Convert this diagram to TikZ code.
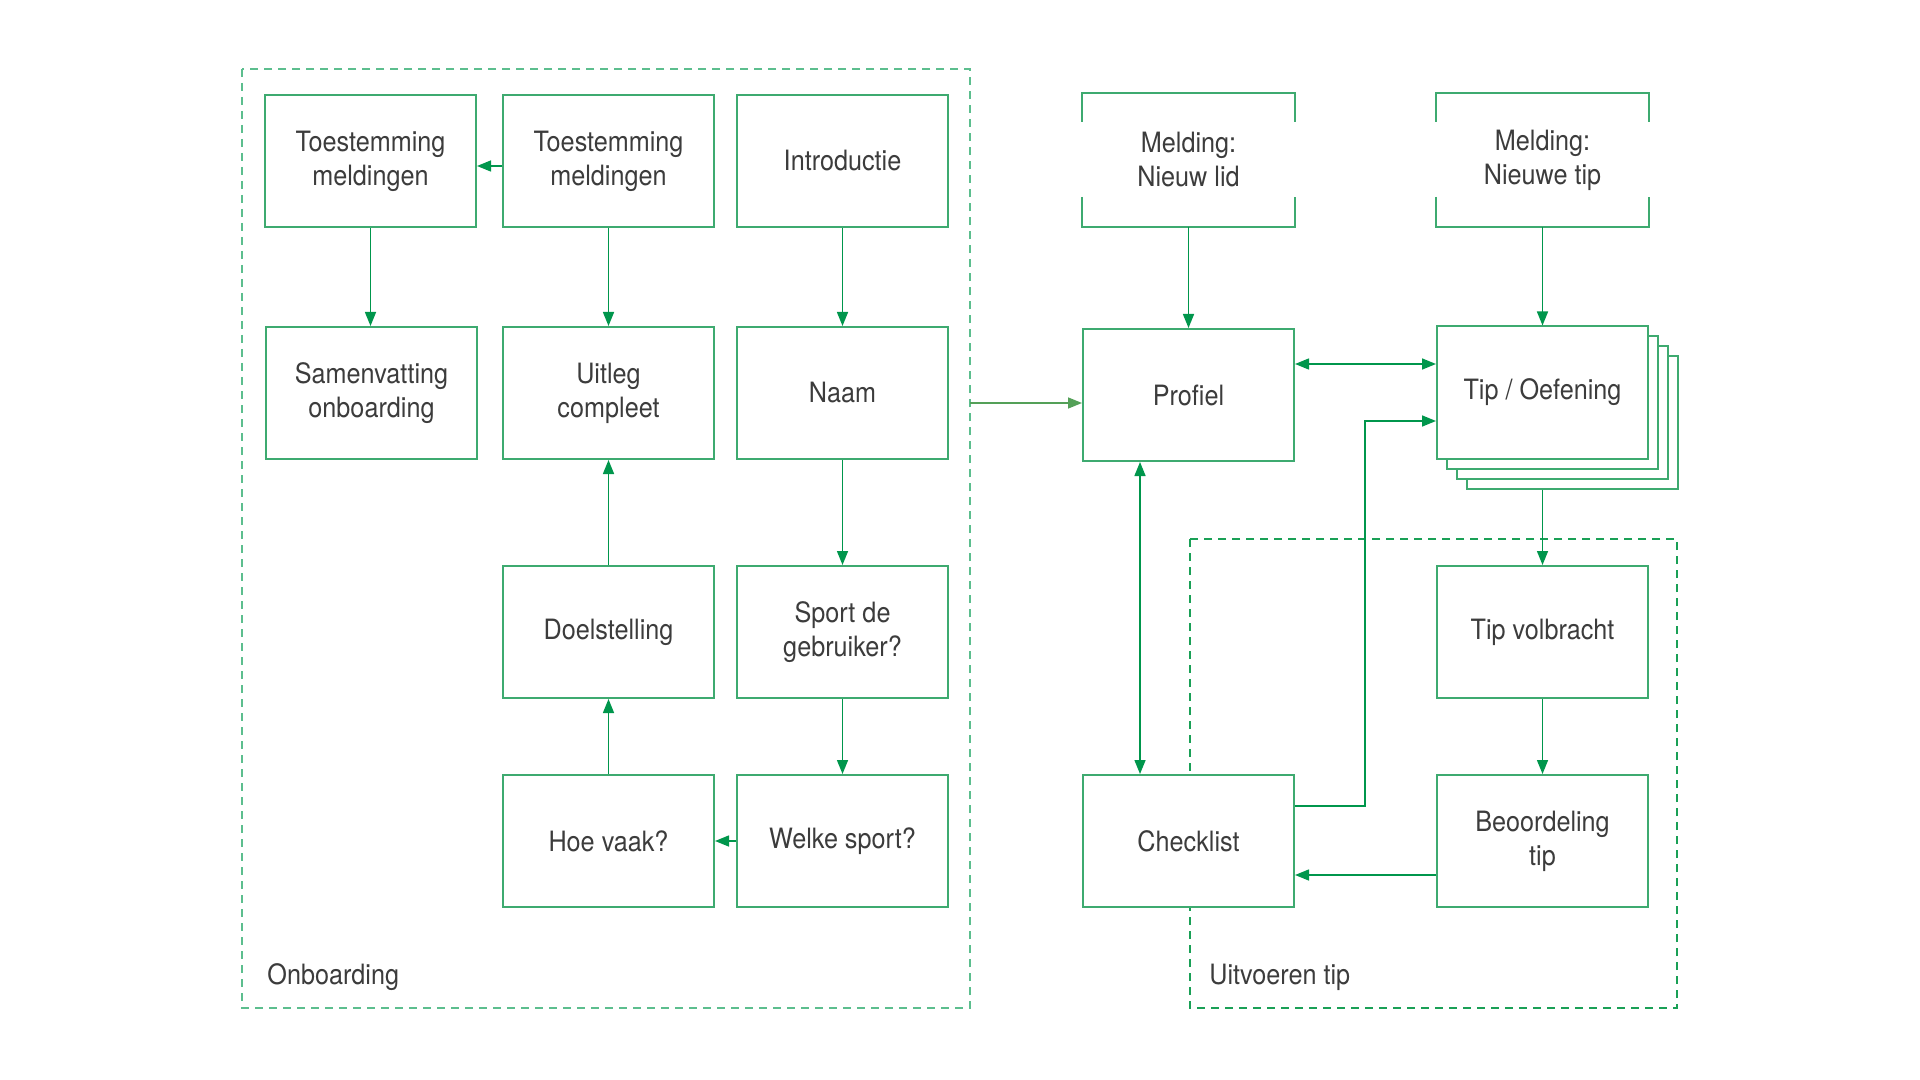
\documentclass[tikz,border=0pt]{standalone}
\usepackage{fontspec}
\setmainfont{TeX Gyre Heros}[FakeStretch=0.9]
\usetikzlibrary{arrows.meta,calc}
\definecolor{boxgreen}{RGB}{62,170,112}
\definecolor{arrowgreen}{RGB}{0,150,76}
\definecolor{linkgreen}{RGB}{84,160,88}
\definecolor{framelight}{RGB}{92,190,142}
\definecolor{framedark}{RGB}{26,160,86}
\definecolor{txt}{RGB}{60,60,60}
\begin{document}
\begin{tikzpicture}[x=0.5pt,y=-0.5pt,
  box/.style={draw=boxgreen,line width=1pt,fill=white,minimum width=105.5pt,
    minimum height=66pt,inner sep=0pt,align=center,text=txt,
    font=\fontsize{14}{17}\selectfont},
  openbox/.style={box,draw=none},
  arr/.style={draw=arrowgreen,line width=0.75pt,-{Triangle[length=7pt,width=5.5pt]}},
  dblarr/.style={arr,{Triangle[length=7pt,width=5.5pt]}-{Triangle[length=7pt,width=5.5pt]}},
  frame/.style={line width=0.8pt,dash pattern=on 4pt off 3pt},
  framelabel/.style={anchor=west,inner sep=0pt,text=txt,font=\fontsize{14}{17}\selectfont}]
\useasboundingbox[fill=white] (0,0) rectangle (1920,1080);

% group frames
\draw[frame,draw=framelight] (242,69) rectangle (970,1008);
\coordinate (onbE) at (970,539);
\draw[frame,draw=framedark] (1190,539) rectangle (1677,1008);
\node[framelabel] (lblOnb) at (267,977) {Onboarding};
\node[framelabel] (lblUit) at (1209,977) {Uitvoeren tip};

% onboarding steps
\node[box] (t1) at (370.5,161) {Toestemming\\meldingen};
\node[box] (t2) at (608.5,161) {Toestemming\\meldingen};
\node[box] (intro) at (842.5,161) {Introductie};
\node[box] (samen) at (371.5,393) {Samenvatting\\onboarding};
\node[box] (uitleg) at (608.5,393) {Uitleg\\compleet};
\node[box] (naam) at (842.5,393) {Naam};
\node[box] (doel) at (608.5,632) {Doelstelling};
\node[box] (sport) at (842.5,632) {Sport de\\gebruiker?};
\node[box] (hoe) at (608.5,841) {Hoe vaak?};
\node[box] (welke) at (842.5,841) {Welke sport?};

% notifications (open sides)
\node[openbox] (mlid) at (1188.5,160) {Melding:\\Nieuw lid};
\node[openbox] (mtip) at (1542.5,160) {Melding:\\Nieuwe tip};
\foreach \m in {mlid,mtip}{
  \draw[boxgreen,line width=1pt]
    ($(\m.north west)+(0,29)$) -- (\m.north west) -- (\m.north east) -- ($(\m.north east)+(0,29)$);
  \draw[boxgreen,line width=1pt]
    ($(\m.south west)+(0,-30)$) -- (\m.south west) -- (\m.south east) -- ($(\m.south east)+(0,-30)$);
}

% app screens
\node[box] (prof) at (1188.5,395) {Profiel};
\node[box] (tip3) at (1572.5,422.5) {};
\node[box] (tip2) at (1562.5,412.5) {};
\node[box] (tip1) at (1552.5,402.5) {};
\node[box] (tip) at (1542.5,392.5) {Tip / Oefening};
\node[box] (volb) at (1542.5,632) {Tip volbracht};
\node[box] (check) at (1188.5,841) {Checklist};
\node[box] (beo) at (1542.5,841) {Beoordeling\\tip};

% onboarding flow
\draw[arr] (t2.west |- 0,166) -- (t1.east |- 0,166);
\draw[arr] (t1.south) -- (t1.south |- samen.north);
\draw[arr] (t2.south) -- (uitleg.north);
\draw[arr] (intro.south) -- (naam.north);
\draw[arr] (naam.south) -- (sport.north);
\draw[arr] (sport.south) -- (welke.north);
\draw[arr] (welke.west) -- (hoe.east);
\draw[arr] (hoe.north) -- (doel.north |- doel.south);
\draw[arr] (doel.north) -- (uitleg.south);

% main app flow
\draw[arr,draw=linkgreen] (onbE |- 0,403) -- (prof.west |- 0,403);
\draw[arr] (mlid.south) -- (prof.north);
\draw[arr] (mtip.south) -- (tip.north);
\draw[dblarr] (prof.east |- 0,364) -- (tip.west |- 0,364);
\draw[dblarr] (1140,0 |- prof.south) -- (1140,0 |- check.north);
\draw[arr] (check.east |- 0,806) -- (1365,806) -- (1365,421) -- (tip.west |- 0,421);
\draw[arr] (tip.south |- tip3.south) -- (volb.north);
\draw[arr] (volb.south) -- (beo.north);
\draw[arr] (beo.west |- 0,875) -- (check.east |- 0,875);
\end{tikzpicture}
\end{document}
